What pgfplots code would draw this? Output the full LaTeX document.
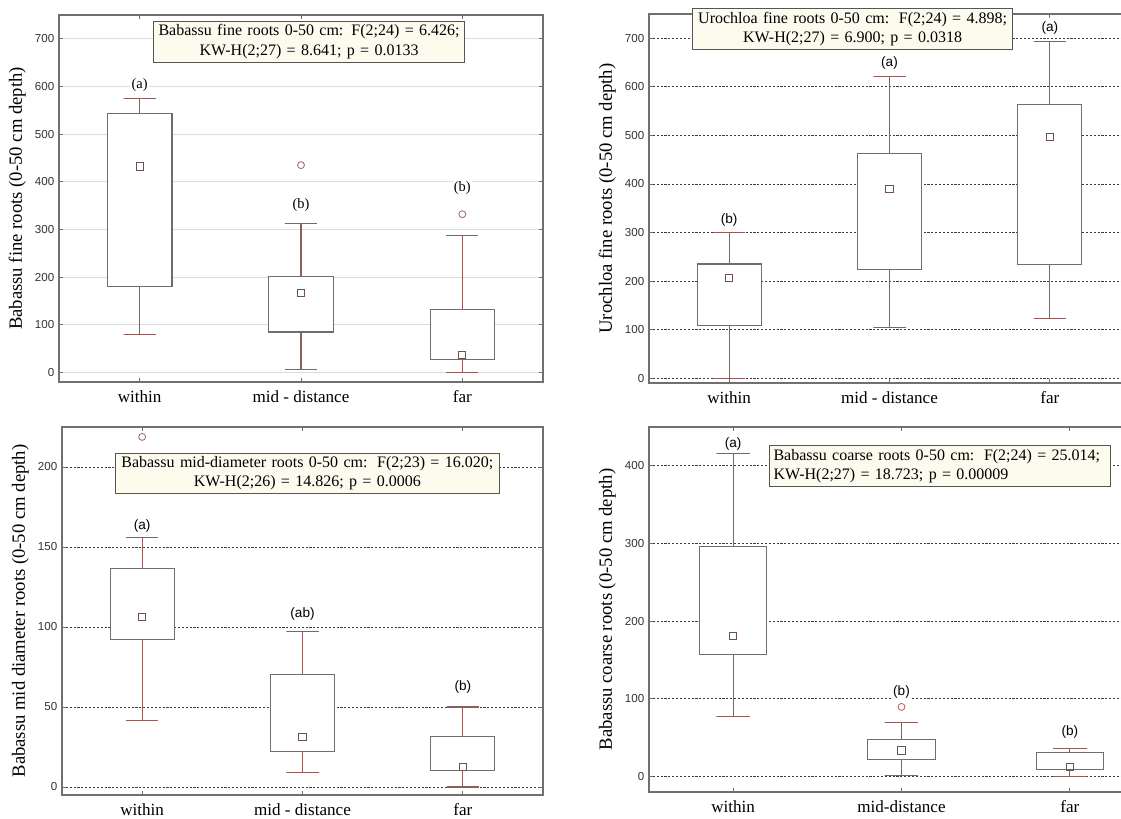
\documentclass[border=0pt]{standalone}
\usepackage{pgfplots}
\pgfplotsset{compat=1.18}
\usepackage{fontspec}
\setmainfont{Liberation Serif}
\newfontfamily\arial{Liberation Sans}
\definecolor{boxc}{HTML}{6E6E6E}
\definecolor{whisk}{HTML}{8E5E5E}
\definecolor{medc}{HTML}{6A5252}
\definecolor{outc}{HTML}{A86A6A}
\definecolor{annfill}{HTML}{FDFAEE}
\definecolor{annd}{HTML}{555555}
\definecolor{gridsolid}{HTML}{DCDCDC}
\definecolor{griddash}{HTML}{3C3C3C}
\definecolor{axc}{HTML}{707070}

\tikzset{
  ann/.style={draw=annd, fill=annfill, line width=0.8pt, font=\fontsize{12}{14.5}\selectfont, inner xsep=3pt, inner ysep=2.5pt},
  lett/.style={font=\arial\fontsize{10.2}{12}\selectfont, fill=white, inner sep=1pt},
  letts/.style={font=\fontsize{10.8}{12}\selectfont, fill=white, inner sep=1pt},
}
\pgfplotsset{
  panel/.style={
    scale only axis, clip=false,
    xmin=-0.5, xmax=2.5,
    xtick={0,1,2},
    axis line style={axc, line width=0.9pt},
    tick style={axc, line width=0.6pt},
    major tick length=3pt,
    ymajorgrids,
    /pgf/number format/assume math mode=true,
    yticklabel style={font=\arial\fontsize{8.7}{10}\selectfont, text=black!80},
    xticklabel style={font=\fontsize{12.8}{14}\selectfont, yshift=-3pt},
    ylabel style={font=\fontsize{14}{16}\selectfont},
  },
  solidgrid/.style={grid style={gridsolid, line width=0.8pt}},
  dashgrid/.style={grid style={griddash, dash pattern=on 1.6pt off 1.3pt, line width=0.6pt}},
  bx/.style={draw=boxc, fill=white, line width=0.85pt, line cap=rect, mark=none},
  wh/.style={draw=whisk, line width=0.85pt, mark=none},
  med/.style={only marks, mark=square, mark size=2.7pt, mark options={draw=medc, line width=0.75pt, fill=none}},
  outl/.style={only marks, mark=o, mark size=2.6pt, mark options={draw=outc, line width=0.65pt}},
}

\begin{document}
\begin{tikzpicture}
\useasboundingbox (0,0) rectangle (840.75pt,613.5pt);
\clip (0,0) rectangle (840.75pt,613.5pt);

% ---------- Panel 1: Babassu fine roots ----------
\begin{axis}[panel, solidgrid,
  at={(44.25pt,327pt)}, anchor=south west,
  width=363pt, height=275.25pt,
  ymin=-20, ymax=750, ytick={0,100,...,700},
  xticklabels={within, mid - distance, far},
  ylabel={Babassu fine roots (0-50 cm depth)},
]
\addplot[wh] coordinates {(0,181) (0,80) (-0.1,80) (0.1,80)};
\addplot[wh] coordinates {(0,543) (0,575) (-0.1,575) (0.1,575)};
\addplot[bx] coordinates {(-0.2,181) (0.2,181) (0.2,543) (-0.2,543) (-0.2,181)};
\addplot[wh] coordinates {(1,85) (1,7) (0.9,7) (1.1,7)};
\addplot[wh] coordinates {(1,202) (1,313) (0.9,313) (1.1,313)};
\addplot[bx] coordinates {(0.8,85) (1.2,85) (1.2,202) (0.8,202) (0.8,85)};
\addplot[wh] coordinates {(2,27) (2,0) (1.9,0) (2.1,0)};
\addplot[wh] coordinates {(2,133) (2,288) (1.9,288) (2.1,288)};
\addplot[bx] coordinates {(1.8,27) (2.2,27) (2.2,133) (1.8,133) (1.8,27)};
\addplot[med] coordinates {(0,432) (1,166) (2,37)};
\addplot[outl] coordinates {(1,435) (2,332)};
\node[letts] at (axis cs:0,604) {(a)};
\node[letts] at (axis cs:1,352) {(b)};
\node[letts] at (axis cs:2,388) {(b)};
\node[ann, text width=227pt, align=center] at (axis cs:1.05,694)
  {Babassu fine roots 0-50 cm:\hspace{0.5em}F(2;24) = 6.426;\\ KW-H(2;27) = 8.641; p = 0.0133};
\end{axis}

% ---------- Panel 2: Urochloa fine roots ----------
\begin{axis}[panel, dashgrid,
  at={(486.75pt,326.25pt)}, anchor=south west,
  width=360.75pt, height=276.75pt,
  ymin=-10, ymax=750, ytick={0,100,...,700},
  xticklabels={within, mid - distance, far},
  ylabel={Urochloa fine roots (0-50 cm depth)},
]
\addplot[wh] coordinates {(0,108) (0,0) (-0.1,0) (0.1,0)};
\addplot[wh] coordinates {(0,235) (0,300) (-0.1,300) (0.1,300)};
\addplot[bx] coordinates {(-0.2,108) (0.2,108) (0.2,235) (-0.2,235) (-0.2,108)};
\addplot[wh] coordinates {(1,224) (1,105) (0.9,105) (1.1,105)};
\addplot[wh] coordinates {(1,462) (1,621) (0.9,621) (1.1,621)};
\addplot[bx] coordinates {(0.8,224) (1.2,224) (1.2,462) (0.8,462) (0.8,224)};
\addplot[wh] coordinates {(2,234) (2,122) (1.9,122) (2.1,122)};
\addplot[wh] coordinates {(2,564) (2,694) (1.9,694) (2.1,694)};
\addplot[bx] coordinates {(1.8,234) (2.2,234) (2.2,564) (1.8,564) (1.8,234)};
\addplot[med] coordinates {(0,206) (1,390) (2,497)};
\node[lett] at (axis cs:0,326) {(b)};
\node[lett] at (axis cs:1,650) {(a)};
\node[lett, fill=none] at (axis cs:2,722) {(a)};
\node[ann, text width=234pt, align=center] at (axis cs:0.77,719.5)
  {Urochloa fine roots 0-50 cm:\hspace{0.6em}F(2;24) = 4.898;\\ KW-H(2;27) = 6.900; p = 0.0318};
\end{axis}

% ---------- Panel 3: Babassu mid-diameter roots ----------
\begin{axis}[panel, dashgrid,
  at={(46.5pt,17.25pt)}, anchor=south west,
  width=360.75pt, height=276pt,
  ymin=-5, ymax=225, ytick={0,50,...,200},
  xticklabels={within, mid - distance, far},
  ylabel={Babassu mid diameter roots (0-50 cm depth)},
]
\addplot[wh] coordinates {(0,92) (0,41.4) (-0.1,41.4) (0.1,41.4)};
\addplot[wh] coordinates {(0,136.6) (0,156) (-0.1,156) (0.1,156)};
\addplot[bx] coordinates {(-0.2,92) (0.2,92) (0.2,136.6) (-0.2,136.6) (-0.2,92)};
\addplot[wh] coordinates {(1,22.2) (1,9) (0.9,9) (1.1,9)};
\addplot[wh] coordinates {(1,70.3) (1,97.3) (0.9,97.3) (1.1,97.3)};
\addplot[bx] coordinates {(0.8,22.2) (1.2,22.2) (1.2,70.3) (0.8,70.3) (0.8,22.2)};
\addplot[wh] coordinates {(2,10.5) (2,0) (1.9,0) (2.1,0)};
\addplot[wh] coordinates {(2,31.4) (2,50) (1.9,50) (2.1,50)};
\addplot[bx] coordinates {(1.8,10.5) (2.2,10.5) (2.2,31.4) (1.8,31.4) (1.8,10.5)};
\addplot[med] coordinates {(0,106.5) (1,31.2) (2,12.6)};
\addplot[outl] coordinates {(0,218.8)};
\node[lett] at (axis cs:0,163) {(a)};
\node[lett] at (axis cs:1,108.4) {(ab)};
\node[lett] at (axis cs:2,62.8) {(b)};
\node[ann, text width=282pt, align=center] at (axis cs:1.03,196)
  {Babassu mid-diameter roots 0-50 cm:\hspace{0.6em}F(2;23) = 16.020;\\ KW-H(2;26) = 14.826; p = 0.0006};
\end{axis}

% ---------- Panel 4: Babassu coarse roots ----------
\begin{axis}[panel, dashgrid,
  at={(486.75pt,19.5pt)}, anchor=south west,
  width=378.75pt, height=273.75pt,
  ymin=-20, ymax=450, ytick={0,100,...,400},
  xticklabels={within, mid-distance, far},
  ylabel={Babassu coarse roots (0-50 cm depth)},
]
\addplot[wh] coordinates {(0,156.5) (0,77) (-0.1,77) (0.1,77)};
\addplot[wh] coordinates {(0,296) (0,416) (-0.1,416) (0.1,416)};
\addplot[bx] coordinates {(-0.2,156.5) (0.2,156.5) (0.2,296) (-0.2,296) (-0.2,156.5)};
\addplot[wh] coordinates {(1,22) (1,1.3) (0.9,1.3) (1.1,1.3)};
\addplot[wh] coordinates {(1,48) (1,69.5) (0.9,69.5) (1.1,69.5)};
\addplot[bx] coordinates {(0.8,22) (1.2,22) (1.2,48) (0.8,48) (0.8,22)};
\addplot[wh] coordinates {(2,9.4) (2,0) (1.9,0) (2.1,0)};
\addplot[wh] coordinates {(2,31.3) (2,36.4) (1.9,36.4) (2.1,36.4)};
\addplot[bx] coordinates {(1.8,9.4) (2.2,9.4) (2.2,31.3) (1.8,31.3) (1.8,9.4)};
\addplot[med] coordinates {(0,180.5) (1,33.4) (2,12.4)};
\addplot[outl] coordinates {(1,89.6)};
\node[lett, fill=none] at (axis cs:0,428) {(a)};
\node[lett] at (axis cs:1,109) {(b)};
\node[lett] at (axis cs:2,57) {(b)};
\node[ann, text width=250pt, align=left] at (axis cs:1.23,399.7)
  {Babassu coarse roots 0-50 cm:\hspace{0.6em}F(2;24) = 25.014;\\ KW-H(2;27) = 18.723; p = 0.00009};
\end{axis}
\end{tikzpicture}
\end{document}
